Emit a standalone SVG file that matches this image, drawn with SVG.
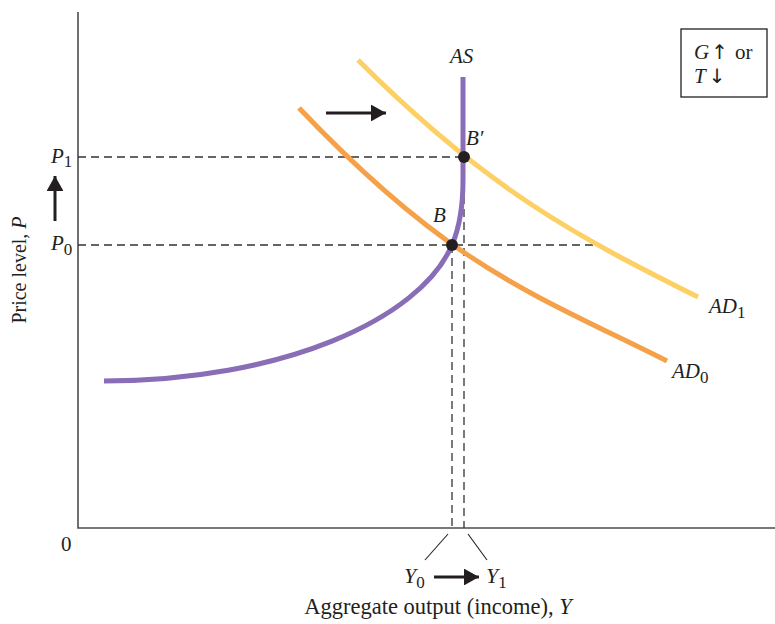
<svg xmlns="http://www.w3.org/2000/svg" width="775" height="624" viewBox="0 0 775 624">
<defs>
<style>
.t{font-family:"Liberation Serif","Times New Roman",serif;font-size:21px;fill:#231f20}
.i{font-style:italic}
.s{font-style:normal;font-size:17px}
.axis{stroke:#4d4d4d;stroke-width:1.6;fill:none}
.dash{stroke:#333;stroke-width:1.3;stroke-dasharray:8,5;fill:none}
.thin{stroke:#231f20;stroke-width:1.1;fill:none}
.arr{stroke:#231f20;stroke-width:3;fill:none}
.curve{fill:none;stroke-width:5;stroke-linecap:butt}
</style>
<marker id="ah" viewBox="0 0 10 10" refX="10" refY="5" markerWidth="5" markerHeight="5.6" markerUnits="strokeWidth" orient="auto" preserveAspectRatio="none">
<path d="M0,0 L10,5 L0,10 z" fill="#231f20"/>
</marker>
</defs>
<rect width="775" height="624" fill="#fff"/>
<g id="axes">
<path class="axis" d="M78,12 V528 H775"/>
<text class="t" x="61" y="551">0</text>
</g>
<g id="connectors">
<path class="dash" d="M78,157 H463"/>
<path class="dash" d="M78,245 H597"/>
<path class="dash" d="M452,245 V528"/>
<path class="dash" d="M464,157 V528"/>
<path class="thin" d="M448,534 L425,560"/>
<path class="thin" d="M468,534 L487,560"/>
<path class="arr" d="M326,113 H386" marker-end="url(#ah)"/>
<path class="arr" d="M55,221 V176" marker-end="url(#ah)"/>
<path class="arr" d="M434,577 H479" marker-end="url(#ah)"/>
</g>
<g id="AD0">
<path class="curve" stroke="#f5a149" d="M299,108 C449,265.5 527,291 667,361"/>
<text class="t i" x="672" y="378">AD<tspan class="s" dy="5">0</tspan></text>
</g>
<g id="AD1">
<path class="curve" stroke="#fdd066" d="M358,60 C488,190 578,237 698,297"/>
<text class="t i" x="709" y="313">AD<tspan class="s" dy="5">1</tspan></text>
</g>
<g id="AS">
<path class="curve" stroke="#8a6db7" d="M104,381 C280,381 420,320 452,245 C461.6,222.5 463,200 463,180 L463,77"/>
<text class="t i" x="450" y="63">AS</text>
</g>
<g id="B">
<circle cx="452" cy="245" r="6" fill="#231f20"/>
<text class="t i" x="433" y="222">B</text>
</g>
<g id="Bprime">
<circle cx="464" cy="157" r="6" fill="#231f20"/>
<text class="t i" x="466" y="145">B′</text>
</g>
<g id="P1">
<text class="t i" x="51" y="163">P<tspan class="s" dy="4">1</tspan></text>
</g>
<g id="P0">
<text class="t i" x="51" y="250">P<tspan class="s" dy="5">0</tspan></text>
</g>
<g id="Y0">
<text class="t i" x="404" y="583" style="font-size:22px">Y<tspan class="s" dy="5">0</tspan></text>
</g>
<g id="Y1">
<text class="t i" x="486" y="583" style="font-size:22px">Y<tspan class="s" dy="5">1</tspan></text>
</g>
<g id="legend">
<rect x="681" y="29" width="86" height="68" fill="#fff" stroke="#231f20" stroke-width="1.3"/>
<text class="t" x="694" y="59"><tspan font-style="italic">G</tspan><tspan font-family="DejaVu Sans" font-size="20" dx="2">↑</tspan><tspan dx="7">or</tspan></text>
<text class="t" x="694" y="83"><tspan font-style="italic">T</tspan><tspan font-family="DejaVu Sans" font-size="20" dx="3">↓</tspan></text>
</g>
<g id="labels">
<text class="t" x="438" y="614" text-anchor="middle" style="font-size:22.5px">Aggregate output (income), <tspan font-style="italic">Y</tspan></text>
<text class="t" transform="translate(26,270) rotate(-90)" text-anchor="middle" style="font-size:20px">Price level, <tspan font-style="italic">P</tspan></text>
</g>
</svg>
